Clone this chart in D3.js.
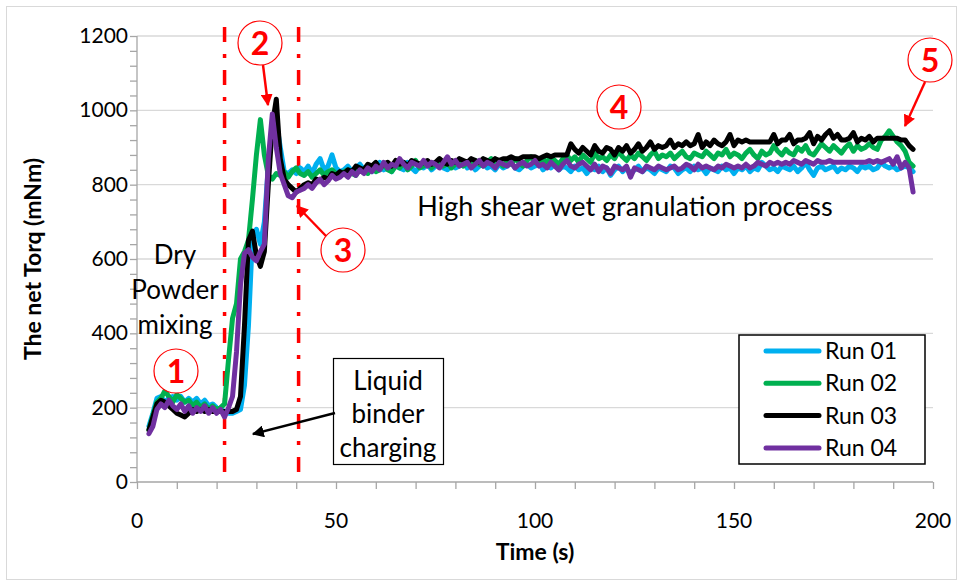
<!DOCTYPE html>
<html><head><meta charset="utf-8">
<script src="https://cdn.jsdelivr.net/npm/d3@7"></script>
<style>body{margin:0;background:#fff}svg{display:block}text{font-family:Lato,"Liberation Sans",sans-serif}</style>
</head><body><svg id="c" width="960" height="584"></svg>
<script>
const time = [3,4,5,6,7,8,9,10,11,12,13,14,15,16,17,18,19,20,21,22,23,24,25,26,27,28,29,30,31,32,33,34,35,36,37,38,39,40,41,42,43,44,45,46,47,48,49,50,51,52,53,54,55,56,57,58,59,60,61,62,63,64,65,66,67,68,69,70,71,72,73,74,75,76,77,78,79,80,81,82,83,84,85,86,87,88,89,90,91,92,93,94,95,96,97,98,99,100,101,102,103,104,105,106,107,108,109,110,111,112,113,114,115,116,117,118,119,120,121,122,123,124,125,126,127,128,129,130,131,132,133,134,135,136,137,138,139,140,141,142,143,144,145,146,147,148,149,150,151,152,153,154,155,156,157,158,159,160,161,162,163,164,165,166,167,168,169,170,171,172,173,174,175,176,177,178,179,180,181,182,183,184,185,186,187,188,189,190,191,192,193,194,195];

const run01 = [150,185,225,230,215,225,230,220,230,215, 225,215,225,210,220,205,210,200,195,190,
 185,185,190,195,260,420,660,680,640,700, 850,960,970,900,835,830,840,830,845,835,
 850,830,855,870,840,850,880,845,835,840, 850,835,845,855,840,850,835,845,860,840,
 850,835,855,845,840,860,845,835,850,845, 855,840,850,860,845,840,855,845,850,860,
 845,855,840,850,860,845,850,840,855,845, 850,860,845,840,850,855,845,850,860,840,
 850,845,855,840,850,845,835,850,840,845, 830,845,840,850,835,845,825,840,850,835,
 845,830,840,850,835,845,840,830,845,840, 835,850,845,830,840,845,835,850,840,845,
 830,845,840,835,850,840,845,830,845,840, 850,835,845,840,860,850,840,845,835,850,
 845,840,850,835,845,860,840,825,845,850, 840,845,850,835,845,840,850,845,835,850,
 845,850,840,845,860,850,845,850,840,845, 850,845,835];

const run02 = [140,180,215,225,245,230,215,235,225,215, 220,205,215,200,210,195,205,195,200,210,
 330,440,480,600,620,650,760,880,975,880, 825,815,830,825,835,820,835,845,830,825,
 835,820,830,840,825,835,840,830,825,835, 840,830,825,845,835,830,850,835,840,855,
 840,835,850,845,860,840,850,865,845,850, 860,845,855,865,850,860,845,855,865,850,
 860,850,865,855,850,860,870,855,860,850, 865,855,870,860,850,865,875,860,855,870,
 860,875,865,855,870,880,865,875,860,880, 870,860,885,870,875,865,880,870,890,875,
 865,880,870,885,875,865,880,890,870,880, 875,885,870,880,890,875,870,885,880,875,
 890,880,870,885,880,895,875,885,880,870, 885,895,880,870,890,880,885,905,890,880,
 895,885,880,900,890,905,885,880,895,910, 900,890,905,895,885,900,910,890,905,895,
 900,910,900,895,920,930,945,930,915,905, 890,860,850];

const run03 = [140,175,210,220,215,205,195,185,180,175, 185,195,190,195,190,195,190,190,190,190,
 190,190,195,230,420,650,675,610,580,620, 800,960,1030,870,815,800,790,780,790,800,
 805,800,815,810,820,815,830,825,835,830, 840,835,850,845,840,855,850,860,845,855,
 860,850,865,855,860,850,865,860,855,860, 865,855,860,870,860,855,865,860,870,865,
 860,870,865,860,870,865,860,870,865,870, 870,875,870,870,875,875,875,875,870,875,
 880,875,880,880,880,880,910,895,885,900, 890,880,905,890,885,900,895,880,900,890,
 905,885,895,910,890,900,915,895,905,900, 905,920,900,910,905,915,905,910,935,900,
 915,905,920,910,905,915,935,905,920,915, 920,915,915,915,915,915,915,935,910,920,
 920,935,910,920,920,925,940,910,930,920, 935,945,925,935,920,920,925,940,915,925,
 920,930,915,925,925,925,925,925,925,920, 920,905,895];

const run04 = [130,150,195,210,200,220,205,195,210,190, 205,185,200,190,205,185,200,185,195,175,
 200,230,350,530,615,625,605,595,620,640, 870,990,900,830,800,770,765,780,785,790,
 800,790,805,815,800,810,825,815,820,830, 820,835,825,840,830,845,835,850,840,860,
 845,855,850,870,855,845,860,855,850,865, 850,860,855,845,860,875,855,865,850,855,
 860,845,855,865,850,860,855,845,860,855, 850,860,845,855,860,850,855,865,850,855,
 845,860,850,840,855,865,850,845,855,860, 850,840,855,835,850,845,830,850,845,840,
 850,820,845,840,835,850,845,840,850,845, 840,845,850,840,845,855,850,840,855,845,
 850,845,840,850,845,855,850,845,850,845, 855,845,850,860,855,850,860,855,860,855,
 860,855,865,860,855,865,860,855,865,860, 860,865,860,860,860,860,860,860,860,860,
 860,865,860,865,860,865,870,855,875,845, 860,845,780];

const seriesNames = ["Run 01","Run 02","Run 03","Run 04"];
const seriesColors = ["#00B0F0","#00B050","#000000","#7030A0"];
const seriesValues = [run01, run02, run03, run04];

const xTicks = [0,50,100,150,200];
const yTicks = [0,200,400,600,800,1000,1200];
const phaseLines = [22, 40.6];

const svg = d3.select("#c");
svg.append("rect").attr("x",6.5).attr("y",6.5).attr("width",950).attr("height",573)
  .attr("fill","#fff").attr("stroke","#d9d9d9");

const x = d3.scaleLinear().domain([0,200]).range([137,933]);
const y = d3.scaleLinear().domain([0,1200]).range([482,36]);

// gridlines
svg.append("g").selectAll("line").data(yTicks.slice(1)).join("line")
  .attr("x1",x(0)).attr("x2",x(200)).attr("y1",d=>y(d)).attr("y2",d=>y(d))
  .attr("stroke","#d9d9d9").attr("stroke-width",1.3);

// axes
const axisColor = "#a6a6a6";
const gx = svg.append("g").attr("transform",`translate(0,${y(0)})`)
  .call(d3.axisBottom(x).tickValues(d3.range(0,201,10)).tickSize(7).tickFormat(""));
const gy = svg.append("g").attr("transform",`translate(${x(0)},0)`)
  .call(d3.axisLeft(y).tickValues(d3.range(0,1201,40)).tickSize(7).tickFormat(""));
[gx,gy].forEach(g=>{g.selectAll("path").attr("stroke",axisColor).attr("stroke-width",1.3);
  g.selectAll("line").attr("stroke",axisColor).attr("stroke-width",1.3);});
gy.select(".domain").attr("d",`M0,${y(0)}V${y(1200)}`);
gx.select(".domain").attr("d",`M${x(0)},0H${x(200)}`);

svg.append("g").selectAll("text").data(xTicks).join("text")
  .attr("x",d=>x(d)).attr("y",528).attr("text-anchor","middle")
  .attr("font-size",21).attr("fill","#000").text(d=>d);
svg.append("g").selectAll("text").data(yTicks).join("text")
  .attr("x",128).attr("y",d=>y(d)+7).attr("text-anchor","end")
  .attr("font-size",21).attr("fill","#000").text(d=>d);

svg.append("text").attr("x",535).attr("y",560).attr("text-anchor","middle")
  .attr("font-size",23).attr("font-weight","bold").text("Time (s)");
svg.append("text").attr("transform","translate(41,259) rotate(-90)").attr("text-anchor","middle")
  .attr("font-size",23).attr("font-weight","bold").text("The net Torq (mNm)");

// phase lines
svg.append("g").selectAll("line").data(phaseLines).join("line")
  .attr("x1",d=>x(d)).attr("x2",d=>x(d)).attr("y1",27).attr("y2",(d,i)=>i?476:482)
  .attr("stroke","#ff0000").attr("stroke-width",3.5).attr("stroke-dasharray","15,12,4,12");

// series
const line = d3.line().x((d,i)=>x(time[i])).y(d=>y(d));
svg.append("g").selectAll("path").data(seriesValues).join("path")
  .attr("d",d=>line(d)).attr("fill","none")
  .attr("stroke",(d,i)=>seriesColors[i]).attr("stroke-width",5)
  .attr("stroke-linejoin","round").attr("stroke-linecap","round");

// annotations text
const t1 = svg.append("text").attr("text-anchor","middle").attr("font-size",26).attr("fill","#000");
[["Dry",264],["Powder",299],["mixing",334]].forEach(([s,yy])=>t1.append("tspan").attr("x",175).attr("y",yy).text(s));

svg.append("rect").attr("x",333.5).attr("y",358.5).attr("width",110).attr("height",106)
  .attr("fill","#fff").attr("stroke","#000").attr("stroke-width",1.2);
const t2 = svg.append("text").attr("text-anchor","middle").attr("font-size",26).attr("fill","#000");
[["Liquid",390],["binder",423],["charging",457]].forEach(([s,yy])=>t2.append("tspan").attr("x",388).attr("y",yy).text(s));

svg.append("text").attr("x",625).attr("y",216).attr("text-anchor","middle").attr("font-size",27)
  .text("High shear wet granulation process");

// arrows
const defs = svg.append("defs");
[["ar","#ff0000"],["ab","#000"]].forEach(([id,c])=>{
  defs.append("marker").attr("id",id).attr("viewBox","0 0 10 10").attr("refX",9).attr("refY",5)
    .attr("markerWidth",5).attr("markerHeight",5).attr("orient","auto").attr("markerUnits","strokeWidth")
    .append("path").attr("d","M0,0L10,5L0,10Z").attr("fill",c);
});
const arrows = [[263,65,268,105,"#ff0000","ar"],[326,236,297,206,"#ff0000","ar"],[925,82,905,126,"#ff0000","ar"],[335,413,253,434,"#000","ab"]];
svg.append("g").selectAll("line").data(arrows).join("line")
  .attr("x1",d=>d[0]).attr("y1",d=>d[1]).attr("x2",d=>d[2]).attr("y2",d=>d[3])
  .attr("stroke",d=>d[4]).attr("stroke-width",2.4).attr("marker-end",d=>`url(#${d[5]})`);

// circled numbers
const circ = [[176,371,"1"],[260,43,"2"],[343,250,"3"],[619,107,"4"],[930,60,"5"]];
const cg = svg.append("g").selectAll("g").data(circ).join("g").attr("transform",d=>`translate(${d[0]},${d[1]})`);
cg.append("circle").attr("r",22).attr("fill","#fff").attr("stroke","#ff0000").attr("stroke-width",1.2);
cg.append("text").attr("text-anchor","middle").attr("y",12).attr("font-size",32).attr("font-weight","bold")
  .attr("fill","#ff0000").text(d=>d[2]);

// legend
const lg = svg.append("g");
lg.append("rect").attr("x",739).attr("y",335).attr("width",186).attr("height",129)
  .attr("fill","#fff").attr("stroke","#000").attr("stroke-width",1.5);
const rows = lg.selectAll("g").data(seriesNames).join("g").attr("transform",(d,i)=>`translate(0,${351+i*32.3})`);
rows.append("line").attr("x1",766).attr("x2",819).attr("stroke",(d,i)=>seriesColors[i])
  .attr("stroke-width",5).attr("stroke-linecap","round");
rows.append("text").attr("x",825).attr("y",8).attr("font-size",23).text(d=>d);
</script></body></html>
